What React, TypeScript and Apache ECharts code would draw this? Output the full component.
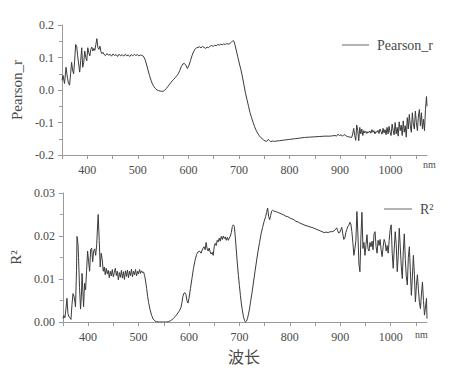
import React, { useEffect, useRef } from "react";
import * as echarts from "echarts";

const xTickLabels = [400, 500, 600, 700, 800, 900, 1000];
const pearsonTicks = [-0.2, -0.1, 0.0, 0.1, 0.2];
const r2Ticks = [0.0, 0.01, 0.02, 0.03];

const pearsonPoints: [number, number][] = [
  [350, 0.03], [352, 0.045], [355, 0.02], [358, 0.07], [361, 0.035], [363, 0.02], [365, 0.015],
  [367, 0.05], [369, 0.085], [371, 0.06], [373, 0.05], [375, 0.09], [377, 0.14], [379, 0.135],
  [381, 0.105], [383, 0.08], [385, 0.055], [387, 0.09], [389, 0.13], [391, 0.07], [393, 0.085],
  [395, 0.12], [397, 0.1], [399, 0.09], [401, 0.13], [403, 0.115], [405, 0.105], [407, 0.125],
  [409, 0.132], [411, 0.12], [413, 0.128], [415, 0.122], [417, 0.14], [419, 0.158], [421, 0.13],
  [423, 0.125], [425, 0.135], [427, 0.118], [429, 0.112], [431, 0.116], [433, 0.11], [436, 0.106],
  [439, 0.112], [442, 0.107], [445, 0.11], [448, 0.104], [451, 0.111], [454, 0.106], [457, 0.109],
  [460, 0.103], [463, 0.11], [466, 0.105], [469, 0.109], [472, 0.104], [475, 0.11], [478, 0.105],
  [481, 0.108], [484, 0.103], [487, 0.109], [490, 0.105], [493, 0.11], [496, 0.106], [499, 0.109],
  [502, 0.105], [505, 0.108], [508, 0.106], [511, 0.104], [514, 0.095], [517, 0.08], [520, 0.062],
  [523, 0.045], [526, 0.03], [529, 0.018], [532, 0.01], [535, 0.004], [538, 0.0], [541, -0.002],
  [544, -0.003], [547, -0.004], [550, -0.004], [553, -0.001], [556, 0.004], [559, 0.01], [562, 0.016],
  [565, 0.022], [568, 0.028], [571, 0.033], [574, 0.038], [577, 0.044], [580, 0.05], [583, 0.06],
  [586, 0.072], [589, 0.08], [592, 0.082], [595, 0.076], [598, 0.066], [601, 0.075], [604, 0.09],
  [607, 0.105], [610, 0.117], [613, 0.125], [616, 0.13], [619, 0.131], [622, 0.133], [625, 0.13],
  [628, 0.134], [631, 0.131], [634, 0.128], [637, 0.132], [640, 0.13], [643, 0.135], [646, 0.137],
  [649, 0.134], [652, 0.138], [655, 0.136], [658, 0.14], [661, 0.138], [664, 0.141], [667, 0.139],
  [670, 0.142], [673, 0.14], [676, 0.143], [679, 0.141], [682, 0.143], [685, 0.147], [688, 0.152],
  [690, 0.15], [692, 0.14], [695, 0.12], [698, 0.1], [701, 0.08], [704, 0.062], [707, 0.04],
  [710, 0.015], [713, -0.01], [716, -0.03], [719, -0.05], [722, -0.07], [725, -0.085], [728, -0.1],
  [731, -0.113], [734, -0.124], [737, -0.133], [740, -0.14], [743, -0.146], [746, -0.15], [749, -0.154],
  [752, -0.157], [755, -0.158], [758, -0.152], [760, -0.155], [763, -0.159], [766, -0.157], [770, -0.158],
  [775, -0.157], [780, -0.156], [785, -0.155], [790, -0.154], [795, -0.153], [800, -0.152], [810, -0.15],
  [820, -0.148], [830, -0.146], [840, -0.145], [850, -0.144], [860, -0.143], [870, -0.142], [880, -0.142],
  [885, -0.141], [890, -0.14], [893, -0.142], [896, -0.136], [899, -0.14], [902, -0.138], [905, -0.142],
  [908, -0.137], [911, -0.14], [914, -0.143], [917, -0.144], [920, -0.145], [923, -0.146], [925, -0.135],
  [927, -0.118], [929, -0.14], [931, -0.155], [933, -0.108], [935, -0.125], [937, -0.156], [939, -0.115],
  [941, -0.135], [943, -0.12], [945, -0.14], [947, -0.125], [949, -0.132], [951, -0.127], [953, -0.134],
  [955, -0.128], [957, -0.131], [959, -0.126], [961, -0.133], [963, -0.122], [965, -0.13], [967, -0.125],
  [969, -0.135], [971, -0.128], [973, -0.13], [975, -0.124], [977, -0.134], [979, -0.12], [981, -0.128],
  [983, -0.136], [985, -0.118], [987, -0.132], [989, -0.122], [991, -0.138], [993, -0.115], [995, -0.135],
  [997, -0.112], [999, -0.13], [1001, -0.14], [1003, -0.105], [1005, -0.125], [1007, -0.138], [1009, -0.1],
  [1011, -0.135], [1013, -0.115], [1015, -0.142], [1017, -0.098], [1019, -0.125], [1021, -0.108],
  [1023, -0.14], [1025, -0.095], [1027, -0.13], [1029, -0.11], [1031, -0.145], [1033, -0.085],
  [1035, -0.12], [1037, -0.075], [1039, -0.11], [1041, -0.13], [1043, -0.07], [1045, -0.105],
  [1047, -0.12], [1049, -0.065], [1051, -0.1], [1053, -0.125], [1055, -0.08], [1057, -0.06],
  [1059, -0.11], [1061, -0.07], [1063, -0.12], [1065, -0.09], [1067, -0.125], [1069, -0.06],
  [1071, -0.02], [1072, -0.05],
];

const r2Points: [number, number][] = [
  [350, 0.0008], [352, 0.0015], [354, 0.001], [356, 0.003], [358, 0.0055], [360, 0.002], [362, 0.0012],
  [364, 0.001], [366, 0.0006], [368, 0.004], [370, 0.0066], [372, 0.006], [374, 0.0045], [375, 0.0035],
  [377, 0.012], [378, 0.0199], [380, 0.018], [381, 0.015], [383, 0.008], [385, 0.003], [387, 0.007],
  [388, 0.0113], [390, 0.006], [391, 0.0035], [393, 0.009], [395, 0.0075], [397, 0.012], [399, 0.0165],
  [401, 0.014], [403, 0.0118], [405, 0.0168], [407, 0.0172], [409, 0.014], [411, 0.0165], [413, 0.017],
  [415, 0.0155], [417, 0.018], [419, 0.023], [420, 0.025], [422, 0.019], [424, 0.0128], [426, 0.016],
  [428, 0.0145], [430, 0.0118], [432, 0.0128], [434, 0.011], [436, 0.0125], [438, 0.0112], [440, 0.012],
  [442, 0.0103], [444, 0.0118], [446, 0.0107], [448, 0.0122], [450, 0.0105], [452, 0.0115], [454, 0.0125],
  [456, 0.0108], [458, 0.0118], [460, 0.0098], [462, 0.0115], [464, 0.0104], [466, 0.012], [468, 0.0102],
  [470, 0.0117], [472, 0.0099], [474, 0.0119], [476, 0.0106], [478, 0.0121], [480, 0.0103], [482, 0.0118],
  [484, 0.0108], [486, 0.0123], [488, 0.0105], [490, 0.0118], [492, 0.011], [494, 0.0122], [496, 0.0107],
  [498, 0.0118], [500, 0.0112], [502, 0.0122], [504, 0.0113], [506, 0.0119], [508, 0.0115], [510, 0.0116],
  [512, 0.0108], [514, 0.0095], [516, 0.0078], [518, 0.006], [520, 0.0045], [523, 0.0028], [526, 0.0015],
  [529, 0.0007], [532, 0.0003], [535, 0.0001], [540, 0.0], [545, 0.0], [550, 0.0], [555, 0.0],
  [560, 0.0001], [563, 0.0003], [566, 0.0005], [569, 0.0008], [572, 0.0012], [575, 0.0016], [578, 0.0021],
  [581, 0.0026], [584, 0.0033], [586, 0.0045], [588, 0.006], [590, 0.0067], [592, 0.0068], [594, 0.0064],
  [596, 0.005], [598, 0.0044], [600, 0.0055], [603, 0.0078], [606, 0.0102], [609, 0.0125], [612, 0.0143],
  [615, 0.0157], [618, 0.0163], [621, 0.0165], [624, 0.016], [627, 0.017], [630, 0.0175], [632, 0.0168],
  [634, 0.0185], [636, 0.017], [638, 0.0165], [640, 0.0172], [642, 0.0163], [644, 0.0158], [646, 0.0162],
  [648, 0.0155], [650, 0.0175], [652, 0.0183], [654, 0.0178], [656, 0.019], [658, 0.0186], [660, 0.0195],
  [662, 0.0188], [664, 0.0199], [666, 0.0192], [668, 0.02], [670, 0.0194], [672, 0.0198], [674, 0.019],
  [676, 0.0197], [678, 0.019], [680, 0.0195], [682, 0.02], [684, 0.0208], [686, 0.0222], [688, 0.0226],
  [690, 0.0222], [692, 0.0195], [694, 0.0165], [696, 0.0135], [698, 0.0108], [700, 0.0085], [702, 0.0062],
  [704, 0.0042], [706, 0.0026], [708, 0.0013], [710, 0.0004], [712, 0.0], [714, 0.0002], [716, 0.0008],
  [718, 0.0018], [720, 0.003], [722, 0.0046], [725, 0.0068], [728, 0.0093], [731, 0.0118], [734, 0.0142],
  [737, 0.0165], [740, 0.0185], [743, 0.0205], [746, 0.022], [749, 0.0234], [752, 0.0245], [754, 0.0255],
  [756, 0.0265], [758, 0.0245], [760, 0.0238], [762, 0.0248], [764, 0.0258], [766, 0.026], [768, 0.0258],
  [772, 0.0257], [776, 0.0255], [780, 0.0253], [784, 0.0251], [788, 0.0249], [792, 0.0246], [796, 0.0245],
  [800, 0.0242], [804, 0.024], [808, 0.0238], [812, 0.0234], [816, 0.0233], [820, 0.023], [824, 0.0228],
  [828, 0.0226], [832, 0.0224], [836, 0.0223], [840, 0.0221], [844, 0.022], [848, 0.0218], [852, 0.0216],
  [856, 0.0214], [860, 0.0212], [864, 0.021], [868, 0.0208], [872, 0.0209], [876, 0.0208], [880, 0.021],
  [884, 0.021], [888, 0.0212], [891, 0.0216], [893, 0.0219], [895, 0.0212], [897, 0.0207], [899, 0.0208],
  [901, 0.0215], [903, 0.022], [905, 0.0205], [907, 0.0192], [909, 0.0195], [911, 0.0208], [913, 0.0215],
  [915, 0.0222], [917, 0.0225], [919, 0.0232], [921, 0.0228], [923, 0.021], [925, 0.0185], [927, 0.0155],
  [929, 0.017], [931, 0.019], [933, 0.0257], [935, 0.0205], [937, 0.0135], [939, 0.0117], [941, 0.02],
  [943, 0.0255], [945, 0.0171], [947, 0.0185], [949, 0.0155], [951, 0.018], [953, 0.0203], [955, 0.017],
  [957, 0.0165], [959, 0.0185], [961, 0.0175], [963, 0.0188], [965, 0.0168], [967, 0.0205], [969, 0.021],
  [971, 0.0175], [973, 0.016], [975, 0.019], [977, 0.0178], [979, 0.0192], [981, 0.0168], [983, 0.0152],
  [985, 0.0175], [987, 0.0192], [989, 0.0185], [991, 0.0165], [993, 0.0178], [995, 0.016], [997, 0.019],
  [999, 0.0215], [1001, 0.0226], [1003, 0.016], [1005, 0.0125], [1007, 0.017], [1009, 0.021], [1011, 0.018],
  [1013, 0.0117], [1015, 0.0155], [1017, 0.0218], [1019, 0.0175], [1021, 0.013], [1023, 0.0101],
  [1025, 0.0165], [1027, 0.0205], [1029, 0.0145], [1031, 0.0105], [1033, 0.0086], [1035, 0.015],
  [1037, 0.0175], [1039, 0.012], [1041, 0.0062], [1043, 0.0105], [1045, 0.0155], [1047, 0.011],
  [1049, 0.0047], [1051, 0.0085], [1053, 0.011], [1055, 0.0075], [1057, 0.0045], [1059, 0.0031],
  [1061, 0.0065], [1063, 0.0093], [1065, 0.005], [1067, 0.0016], [1069, 0.0035], [1071, 0.0055],
  [1072, 0.0008],
];

const LINE = "#3a3a3a";
const AXIS = "#9a9a9a";
const TEXT = "#4a4a4a";
const SERIF = "'Liberation Serif', 'DejaVu Serif', serif";

function xAxisFor(gridIndex: number, nameGap: number, padTop: number) {
  return {
    type: "value",
    gridIndex,
    min: 350,
    max: 1072,
    interval: 50,
    name: "nm",
    nameLocation: "end",
    nameGap,
    nameTextStyle: {
      color: TEXT,
      fontFamily: SERIF,
      fontSize: 10,
      align: "left",
      verticalAlign: "top",
      padding: [padTop, 0, 0, 0],
    },
    axisLine: { show: true, onZero: false, lineStyle: { color: AXIS, width: 1 } },
    axisTick: { show: true, length: 4, lineStyle: { color: AXIS } },
    minorTick: { show: false },
    splitLine: { show: false },
    axisLabel: {
      color: TEXT,
      fontFamily: SERIF,
      fontSize: 12,
      margin: 9,
      showMaxLabel: false,
      formatter: (v: number) => (xTickLabels.includes(v) ? String(v) : ""),
    },
  };
}

function legendFor(name: string, left: number, top: number, width: number) {
  return {
    left,
    top,
    icon: "rect",
    itemWidth: width,
    itemHeight: 1,
    data: [name],
    itemStyle: { color: "#666666" },
    textStyle: { color: TEXT, fontFamily: SERIF, fontSize: 14, padding: [0, 0, 0, 3] },
  };
}

export default function App() {
  const ref = useRef<HTMLDivElement>(null);
  useEffect(() => {
    if (!ref.current) return;
    const chart = echarts.init(ref.current, undefined, { renderer: "svg" });
    chart.setOption({
      animation: false,
      backgroundColor: "#ffffff",
      grid: [
        { left: 62, top: 25, width: 365, height: 130 },
        { left: 62, top: 193, width: 365, height: 129 },
      ],
      legend: [
        legendFor("Pearson_r", 337, 33, 27),
        legendFor("R²", 379, 197, 28),
      ],
      xAxis: [xAxisFor(0, -4, 4), xAxisFor(1, -12, 7)],
      yAxis: [
        {
          type: "value",
          gridIndex: 0,
          min: pearsonTicks[0],
          max: pearsonTicks[pearsonTicks.length - 1],
          interval: 0.1,
          name: "Pearson_r",
          nameLocation: "middle",
          nameGap: 34,
          nameTextStyle: { color: TEXT, fontFamily: SERIF, fontSize: 15 },
          axisLine: { show: true, onZero: false, lineStyle: { color: AXIS } },
          axisTick: { show: true, length: 4, lineStyle: { color: AXIS } },
          minorTick: { show: true, splitNumber: 2, length: 3, lineStyle: { color: AXIS } },
          splitLine: { show: false },
          axisLabel: {
            color: TEXT,
            fontFamily: SERIF,
            fontSize: 12,
            margin: 8,
            formatter: (v: number) => v.toFixed(1),
          },
        },
        {
          type: "value",
          gridIndex: 1,
          min: r2Ticks[0],
          max: r2Ticks[r2Ticks.length - 1],
          interval: 0.01,
          name: "R²",
          nameLocation: "middle",
          nameGap: 39,
          nameTextStyle: { color: TEXT, fontFamily: SERIF, fontSize: 15 },
          axisLine: { show: true, onZero: false, lineStyle: { color: AXIS } },
          axisTick: { show: true, length: 4, lineStyle: { color: AXIS } },
          minorTick: { show: true, splitNumber: 2, length: 3, lineStyle: { color: AXIS } },
          splitLine: { show: false },
          axisLabel: {
            color: TEXT,
            fontFamily: SERIF,
            fontSize: 12,
            margin: 8,
            formatter: (v: number) => v.toFixed(2),
          },
        },
      ],
      graphic: [
        {
          type: "text",
          x: 244,
          y: 356,
          style: {
            text: "波长",
            fill: TEXT,
            font: "16px 'Noto Sans CJK SC'",
            align: "center",
            verticalAlign: "middle",
          },
        },
      ],
      series: [
        {
          name: "Pearson_r",
          type: "line",
          xAxisIndex: 0,
          yAxisIndex: 0,
          data: pearsonPoints,
          symbol: "none",
          lineStyle: { color: LINE, width: 1 },
          itemStyle: { color: LINE },
        },
        {
          name: "R²",
          type: "line",
          xAxisIndex: 1,
          yAxisIndex: 1,
          data: r2Points,
          symbol: "none",
          lineStyle: { color: LINE, width: 1 },
          itemStyle: { color: LINE },
        },
      ],
    });
    return () => chart.dispose();
  }, []);
  return <div ref={ref} style={{ width: 453, height: 368, position: "absolute", left: 0, top: 0 }} />;
}
